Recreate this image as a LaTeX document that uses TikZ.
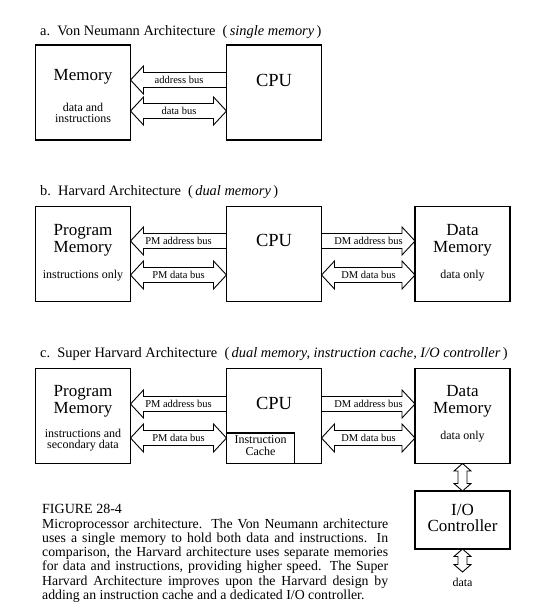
\documentclass[tikz,border=0pt]{standalone}
\usepackage{fontspec}
\setmainfont{Liberation Serif}
\usetikzlibrary{calc}
\tikzset{
box/.style={
  draw=black,
  line width=1.6pt,
  minimum width=95pt,
  minimum height=95pt,
  inner sep=0pt,
  outer sep=0pt
  },
bus/.style={draw=black,line width=0.9pt,line join=miter},
buslabel/.style={inner sep=1pt,font={\fontsize{10.5}{12}\selectfont}},
big/.style={align=center,inner sep=0pt,font={\fontsize{17}{17}\selectfont}},
cpu/.style={inner sep=0pt,font={\fontsize{18.5}{18.5}\selectfont}},
small/.style={align=center,inner sep=0pt,font={\fontsize{12}{11}\selectfont}},
title/.style={anchor=base west,inner sep=0pt,font={\fontsize{14.4}{16}\selectfont}}
}
\newcommand{\headlen}{13pt}
\newcommand{\headhalf}{14pt}
\newcommand{\shafthalf}{7.5pt}
% hollow bus arrow, tip at #1, open end at #2
\newcommand{\onebus}[2]{%
  \coordinate (bt) at (#1);
  \coordinate (be) at (#2);
  \draw[bus] (bt)
    -- ($(bt)!\headlen!(be)!\headhalf!90:(be)$)
    -- ($(bt)!\headlen!(be)!\shafthalf!90:(be)$)
    -- ($(be)!\shafthalf!-90:(bt)$)
    -- ($(be)!\shafthalf!90:(bt)$)
    -- ($(bt)!\headlen!(be)!\shafthalf!-90:(be)$)
    -- ($(bt)!\headlen!(be)!\headhalf!-90:(be)$)
    -- cycle;}
% hollow bus arrow with a tip at both ends
\newcommand{\twobus}[2]{%
  \coordinate (bt) at (#1);
  \coordinate (be) at (#2);
  \draw[bus] (bt)
    -- ($(bt)!\headlen!(be)!\headhalf!90:(be)$)
    -- ($(bt)!\headlen!(be)!\shafthalf!90:(be)$)
    -- ($(be)!\headlen!(bt)!\shafthalf!-90:(bt)$)
    -- ($(be)!\headlen!(bt)!\headhalf!-90:(bt)$)
    -- (be)
    -- ($(be)!\headlen!(bt)!\headhalf!90:(bt)$)
    -- ($(be)!\headlen!(bt)!\shafthalf!90:(bt)$)
    -- ($(bt)!\headlen!(be)!\shafthalf!-90:(be)$)
    -- ($(bt)!\headlen!(be)!\headhalf!-90:(be)$)
    -- cycle;}

\begin{document}
\begin{tikzpicture}[x=1pt,y=-1pt]
        \useasboundingbox (0,0) rectangle (552,616);
        % a. von neumann
        \node[title] (ta) at (40,35) {a.\ \ Von Neumann Architecture\ \ (\,\textit{single memory}\,)};
        \node[box] (mema) at (83,92.5) {};
        \node[box] (cpua) at (274,92.5) {};
        \node[big] (memat) at (83,77) {Memory};
        \node[small] (memad) at (83,113) {data and\\instructions};
        \node[cpu] (cpuat) at (274,80) {CPU};
        \onebus{mema.east |- 0,80}{cpua.west |- 0,80}
        \node[buslabel] (abusa) at (179,80) {address bus};
        \twobus{mema.east |- 0,111}{cpua.west |- 0,111}
        \node[buslabel] (dbusa) at (179,111) {data bus};
        % b. harvard
        \node[title] (tb) at (40,195) {b.\ \ Harvard Architecture\ \ (\,\textit{dual memory}\,)};
        \node[box] (pmb) at (83,254) {};
        \node[box] (cpub) at (274,254) {};
        \node[box] (dmb) at (462.5,254) {};
        \node[big] (pmbt) at (83,240) {Program\\Memory};
        \node[small] (pmbd) at (83,276) {instructions only};
        \node[cpu] (cpubt) at (274,240) {CPU};
        \node[big] (dmbt) at (462.5,240) {Data\\Memory};
        \node[small] (dmbd) at (462.5,276) {data only};
        \onebus{pmb.east |- 0,241}{cpub.west |- 0,241}
        \node[buslabel] (pmab) at (178.5,241) {PM address bus};
        \twobus{pmb.east |- 0,275}{cpub.west |- 0,275}
        \node[buslabel] (pmdb) at (178.5,275) {PM data bus};
        \onebus{dmb.west |- 0,241}{cpub.east |- 0,241}
        \node[buslabel] (dmab) at (368.5,241) {DM address bus};
        \twobus{cpub.east |- 0,275}{dmb.west |- 0,275}
        \node[buslabel] (dmdb) at (368.5,275) {DM data bus};
        % c. super harvard
        \node[title] (tc) at (40,357) {c.\ \ Super Harvard Architecture\ \ (\,\textit{dual memory, instruction cache, I/O controller}\,)};
        \node[box] (pmc) at (83,416) {};
        \node[box] (cpuc) at (274,416) {};
        \node[box] (dmc) at (462.5,416) {};
        \node[box,minimum width=68pt,minimum height=30.5pt] (cache) at (260.5,448.25) {};
        \node[big] (pmct) at (83,401) {Program\\Memory};
        \node[small] (pmcd) at (83,440.5) {instructions and\\secondary data};
        \node[cpu] (cpuct) at (274,403) {CPU};
        \node[small,font={\fontsize{12}{12}\selectfont}] (cachet) at (260.5,445.5) {Instruction\\Cache};
        \node[big] (dmct) at (462.5,401) {Data\\Memory};
        \node[small] (dmcd) at (462.5,437) {data only};
        \onebus{pmc.east |- 0,404}{cpuc.west |- 0,404}
        \node[buslabel] (pmac) at (178.5,404) {PM address bus};
        \twobus{pmc.east |- 0,438}{cpuc.west |- 0,438}
        \node[buslabel] (pmdc) at (178.5,438) {PM data bus};
        \onebus{dmc.west |- 0,404}{cpuc.east |- 0,404}
        \node[buslabel] (dmac) at (368.5,404) {DM address bus};
        \twobus{cpuc.east |- 0,438}{dmc.west |- 0,438}
        \node[buslabel] (dmdc) at (368.5,438) {DM data bus};
        % i/o controller
        \node[box,minimum height=58pt] (io) at (462.5,520) {};
        \node[big,font={\fontsize{17}{15.5}\selectfont}] (iot) at (462.5,518) {I/O\\Controller};
        \coordinate (ioout) at (462.5,572);
        \node[small] (iodata) at (462.5,582) {data};
        \begin{scope}
        \renewcommand{\headlen}{7.5pt}
        \renewcommand{\headhalf}{8.5pt}
        \renewcommand{\shafthalf}{4.5pt}
        \twobus{dmc.south}{io.north}
        \twobus{io.south}{ioout}
        \end{scope}
        % caption
        \node[title,font={\fontsize{14}{16}\selectfont}] (fig) at (42,513) {FIGURE 28-4};
        \node[anchor=north west,inner sep=0pt,text width=346pt,align=justify,font={\fontsize{13.8}{14.2}\selectfont}] (cap) at (42,518.5) {Microprocessor architecture.  The Von Neumann architecture\linebreak
        uses a single memory to hold both data and instructions.  In\linebreak
        comparison, the Harvard architecture uses separate memories\linebreak
        for data and instructions, providing higher speed.  The Super\linebreak
        Harvard Architecture improves upon the Harvard design by\linebreak
        adding an instruction cache and a dedicated I/O controller.};
    \end{tikzpicture}
\end{document}
